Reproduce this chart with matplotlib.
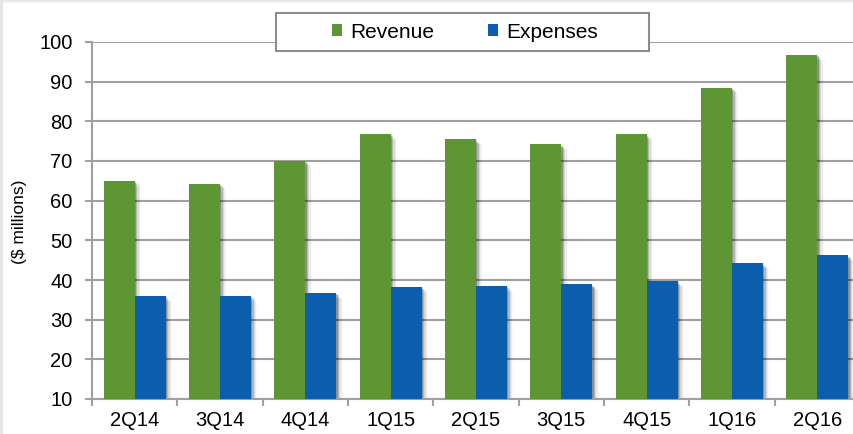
import matplotlib
matplotlib.use("Agg")
import matplotlib.pyplot as plt
from matplotlib.patches import Rectangle, Patch
import numpy as np

plt.rcParams['font.family'] = ['Liberation Sans', 'DejaVu Sans']

quarters = ["2Q14", "3Q14", "4Q14", "1Q15", "2Q15", "3Q15", "4Q15", "1Q16", "2Q16"]
revenue = [65.0, 64.3, 70.1, 76.8, 75.5, 74.2, 76.7, 88.5, 96.7]
expenses = [35.9, 36.0, 36.7, 38.3, 38.5, 38.9, 39.7, 44.2, 46.2]

GREEN = "#5F9634"
BLUE = "#0B5DAD"
GRID = "#A0A0A0"

W, H = 854, 434
fig = plt.figure(figsize=(W / 100, H / 100), dpi=100)
fig.patch.set_facecolor("white")

# outer frame shadows
for i, a in enumerate([0.10, 0.07, 0.04, 0.02]):
    fig.patches.append(Rectangle((0, 1 - (i + 1) / H), 1, 1 / H, transform=fig.transFigure,
                                 facecolor="black", alpha=a, edgecolor="none"))
fig.patches.append(Rectangle((0, 0), 3 / W, 1, transform=fig.transFigure,
                             facecolor="#E6E6E6", edgecolor="none"))

left, right = 92, 92 + 9 * 85.33
top, bottom = 42, 399
ax = fig.add_axes([left / W, 1 - bottom / H, (right - left) / W, (bottom - top) / H])
ax.set_facecolor("none")

x = np.arange(len(quarters))
bw = 0.363
# shadows
for k, a in enumerate([0.22, 0.15, 0.09, 0.05, 0.02]):
    off = 0.016 * (k + 1)
    ax.bar(x - bw / 2 + off, np.array(revenue) - 10 - 0.3 * (k + 1), bottom=10, width=bw,
           color="black", alpha=a, linewidth=0, zorder=2)
    ax.bar(x + bw / 2 + off, np.array(expenses) - 10 - 0.3 * (k + 1), bottom=10, width=bw,
           color="black", alpha=a, linewidth=0, zorder=2)

ax.bar(x - bw / 2, np.array(revenue) - 10, bottom=10, width=bw, color=GREEN, linewidth=0, zorder=3)
ax.bar(x + bw / 2, np.array(expenses) - 10, bottom=10, width=bw, color=BLUE, linewidth=0, zorder=3)

ax.set_xlim(-0.5, len(quarters) - 0.5)
ax.set_ylim(10, 100)
ax.set_yticks(np.arange(10, 101, 10))
ax.yaxis.grid(True, color=GRID, linewidth=1.5, zorder=1)
ax.set_axisbelow(True)

ax.set_xticks(np.arange(-0.5, len(quarters), 1.0))
ax.set_xticklabels([])
ax.set_xticks(x, minor=True)
ax.set_xticklabels(quarters, minor=True)
ax.tick_params(axis="x", which="major", length=5, width=1.5, color=GRID)
ax.tick_params(axis="x", which="minor", length=0, pad=9, labelsize=14.5)
ax.tick_params(axis="y", length=5, width=1.5, color=GRID, pad=9, labelsize=14.5)

for s in ["top", "right"]:
    ax.spines[s].set_visible(False)
for s in ["left", "bottom"]:
    ax.spines[s].set_color(GRID)
    ax.spines[s].set_linewidth(1.5)

fig.text(20 / W, 1 - 222 / H, "($ millions)", rotation=90, ha="center", va="center", fontsize=12.5)

# legend box
lx0, lx1, ly0, ly1 = 276, 649, 13, 51
fig.patches.append(Rectangle((lx0 / W, 1 - ly1 / H), (lx1 - lx0) / W, (ly1 - ly0) / H,
                             transform=fig.transFigure, facecolor="white", edgecolor="#8C8C8C",
                             linewidth=1.5, zorder=5))
handles = [Patch(facecolor=GREEN, edgecolor="none", label="Revenue"),
           Patch(facecolor=BLUE, edgecolor="none", label="Expenses")]
leg = fig.legend(handles=handles, loc="center", bbox_to_anchor=(465 / W, 1 - 32 / H),
                 ncol=2, frameon=False, fontsize=15, handlelength=0.45, handleheight=0.45,
                 handletextpad=0.4, columnspacing=2.6, borderpad=0)
leg.set_zorder(6)

fig.savefig("out.png", dpi=100)
